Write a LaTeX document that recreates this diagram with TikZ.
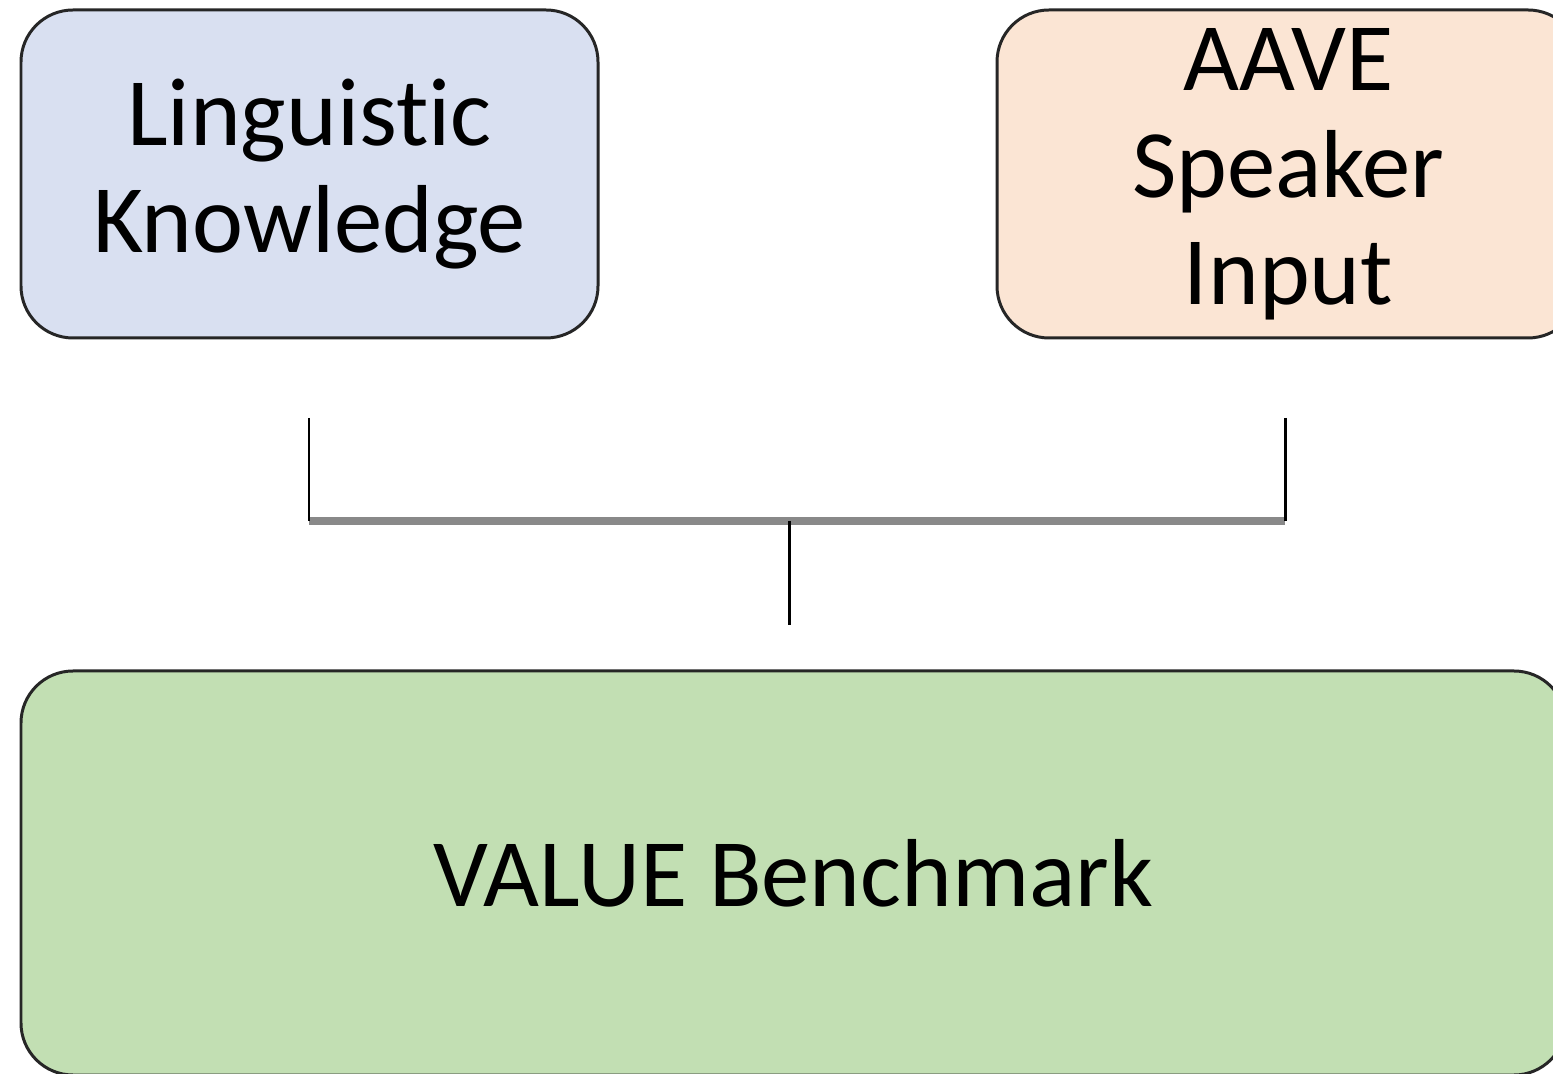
\documentclass[tikz,border=0pt]{standalone}
\usepackage{fontspec}
\setmainfont{Carlito}[Ligatures=NoCommon]
\usepackage{xcolor}
\usepackage{tikz}
\usetikzlibrary{positioning}
\definecolor{KnowBlue}{HTML}{D9E0F1}
\definecolor{SpeakPeach}{HTML}{FBE5D4}
\definecolor{BenchGreen}{HTML}{C2DFB3}
\definecolor{BarGray}{HTML}{898989}

\begin{document}
\begin{tikzpicture}[
          box/.style={rectangle, rounded corners=0.52cm, draw=black!85,
                      line width=0.85pt, align=center,
                      font=\fontsize{27.5}{30.5}\selectfont},
          stub/.style={draw=black, line width=0.85pt},
          bar/.style={draw=BarGray, line width=2pt}
        ]
        \useasboundingbox (0,0) rectangle (15.53,10.74);

        % Inputs
        \node[box, fill=KnowBlue, minimum width=5.77cm,
              minimum height=3.28cm]
              (lk) at (3.095, 9.00) {Linguistic\\Knowledge};
        \node[box, fill=SpeakPeach, minimum width=5.83cm,
              minimum height=3.28cm]
              (asi) at (12.885, 9.00) {AAVE\\Speaker\\Input};

        % Result
        \node[box, fill=BenchGreen, minimum width=15.45cm,
              minimum height=4.04cm]
              (bench) at (7.935, 2.01) {VALUE Benchmark};

        % Bracket joining the inputs
        \coordinate (lkend)    at (3.09, 6.56);
        \coordinate (lkbar)    at (3.09, 5.53);
        \coordinate (asiend)   at (12.85, 6.56);
        \coordinate (asibar)   at (12.85, 5.53);
        \coordinate (barmid)   at (7.89, 5.53);
        \coordinate (benchend) at (7.89, 4.49);

        \draw[bar]  (lkbar)  -- (asibar);
        \draw[stub] (lkend)  -- (lkbar);
        \draw[stub] (asiend) -- (asibar);
        \draw[stub] (barmid) -- (benchend);
      \end{tikzpicture}
\end{document}
